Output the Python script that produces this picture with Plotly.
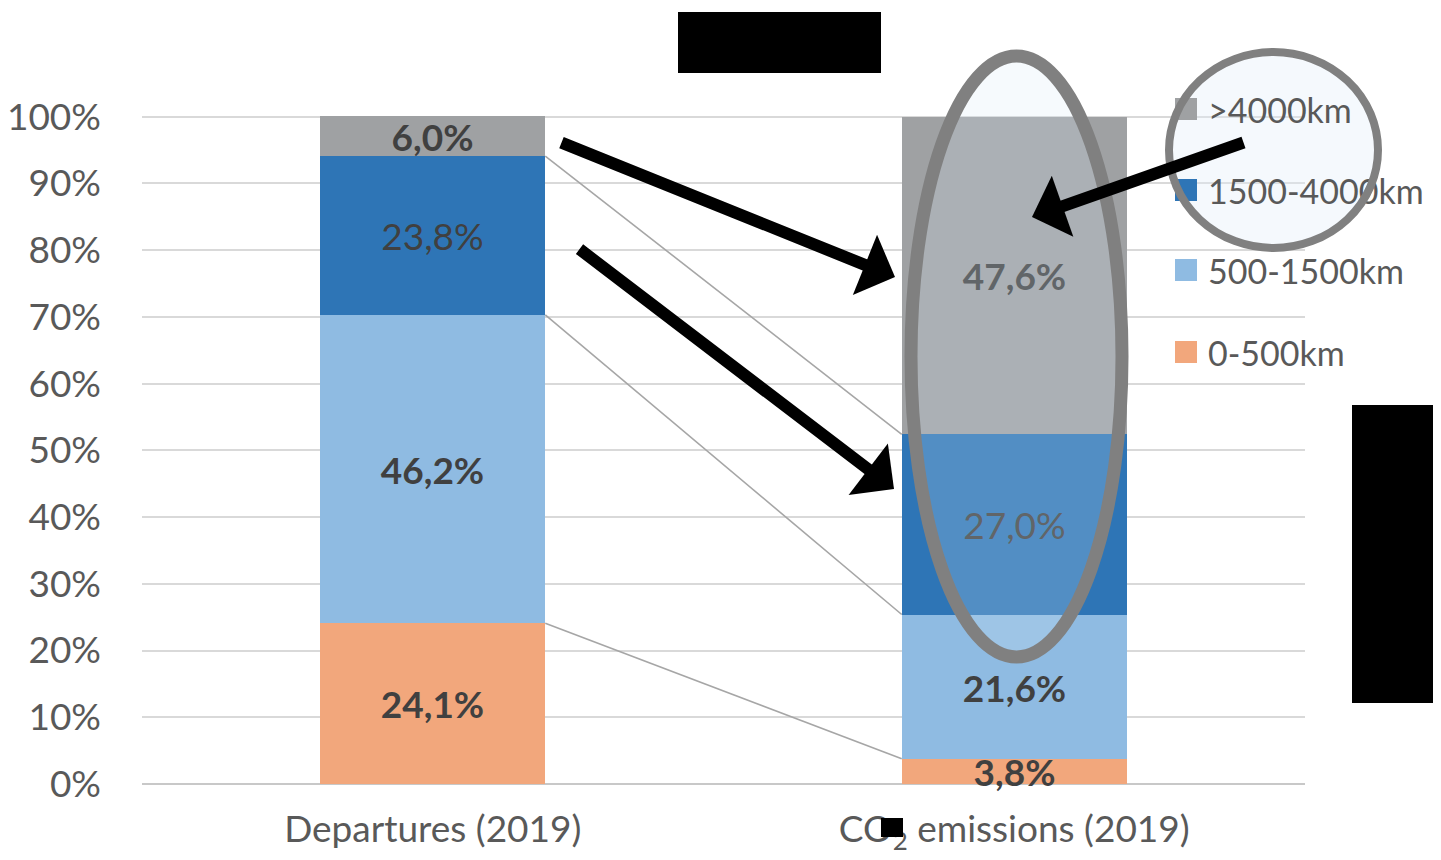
import plotly.graph_objects as go

categories = ["Departures (2019)", "CO<sub>2</sub> emissions (2019)"]
series_names = ["0-500km", "500-1500km", "1500-4000km", ">4000km"]
values_0_500 = [24.1, 3.8]
values_500_1500 = [46.2, 21.6]
values_1500_4000 = [23.8, 27.0]
values_4000_plus = [6.0, 47.6]
series_values = [values_0_500, values_500_1500, values_1500_4000, values_4000_plus]
series_colors = ["#f2a77c", "#8fbbe2", "#2e75b6", "#9fa1a3"]
label_bold = [True, True, False, True]
y_ticks = [0, 10, 20, 30, 40, 50, 60, 70, 80, 90, 100]
y_tick_labels = [f"{v}%" for v in y_ticks]
Y_MAX = 101

# page body has an 8px margin: the figure is drawn offset by (8, 8)
OFF = 8
W, H = 1441 - OFF, 860 - OFF
PLOT_L, PLOT_R, PLOT_B = 142, 1305, 784   # screen pixels
Y100 = 117                                 # screen pixel of the 100% line
PLOT_T = round(PLOT_B - (PLOT_B - Y100) * Y_MAX / 100)
ML, MR, MT, MB = PLOT_L - OFF, 1441 - PLOT_R, PLOT_T - OFF, 860 - PLOT_B
PW, PH = PLOT_R - PLOT_L, PLOT_B - PLOT_T
FONT = "Lato"
BAR_W = 0.387


def px(x):
    return (x - PLOT_L) / PW


def py(y):
    return (PLOT_B - y) / PH


fig = go.Figure()
xpos = list(range(len(categories)))

for name, vals, col, bold in zip(series_names, series_values, series_colors, label_bold):
    fig.add_trace(go.Bar(
        x=xpos, y=vals, name=name, width=BAR_W,
        marker=dict(color=col, line=dict(width=0)),
        texttemplate="%{y:.1f}%", textposition="inside", insidetextanchor="middle",
        textangle=0, constraintext="none", cliponaxis=False,
        textfont=dict(family=FONT, size=37, color="#404040",
                      weight="bold" if bold else "normal"),
        showlegend=False,
    ))

# series connector lines between the bars
cum = [0, 0]
for vals in series_values[:-1]:
    cum = [c + v for c, v in zip(cum, vals)]
    fig.add_trace(go.Scatter(
        x=[xpos[0] + BAR_W / 2, xpos[1] - BAR_W / 2], y=cum, mode="lines",
        line=dict(color="#a6a6a6", width=1.6), showlegend=False, hoverinfo="skip",
    ))

fig.update_layout(
    width=W, height=H, barmode="stack", bargap=0,
    separators=",.",
    paper_bgcolor="white", plot_bgcolor="white",
    margin=dict(l=ML, r=MR, t=MT, b=MB, pad=0),
    font=dict(family=FONT, color="#595959"),
    showlegend=False,
    xaxis=dict(range=[-0.5, 1.5], tickvals=xpos, ticktext=categories,
               showgrid=False, zeroline=False, showline=False, ticks="",
               automargin=False,
               tickfont=dict(family=FONT, size=37, color="#595959"),
               ticklabelstandoff=20),
    yaxis=dict(range=[0, Y_MAX], tickvals=y_ticks, ticktext=y_tick_labels,
               showgrid=True, gridcolor="#d9d9d9", gridwidth=2,
               zeroline=True, zerolinecolor="#c8c8c8", zerolinewidth=2,
               showline=False, ticks="", automargin=False,
               tickfont=dict(family=FONT, size=37, color="#595959"),
               ticklabelstandoff=40),
)

shapes = []
# big ellipse around the CO2 bar (translucent)
shapes.append(dict(type="circle", xref="paper", yref="paper", layer="above",
                   x0=px(911), x1=px(1122), y0=py(657), y1=py(56),
                   line=dict(color="#808080", width=13),
                   fillcolor="rgba(215,232,248,0.22)"))
# legend circle fill
shapes.append(dict(type="circle", xref="paper", yref="paper", layer="above",
                   x0=px(1169), x1=px(1378), y0=py(248), y1=py(52),
                   line=dict(width=0), fillcolor="rgba(225,238,250,0.35)"))
# legend entries (drawn in reverse order: >4000km on top)
legend_y = [352, 270, 190, 109]
for name, col, yc in zip(series_names, series_colors, legend_y):
    shapes.append(dict(type="rect", xref="paper", yref="paper", layer="above",
                       x0=px(1175), x1=px(1197), y0=py(yc + 11), y1=py(yc - 11),
                       line=dict(width=0), fillcolor=col))
    shapes.append(dict(type="rect", xref="paper", yref="paper", layer="above",
                       x0=px(1203), x1=px(1440), y0=py(yc + 22), y1=py(yc - 22),
                       line=dict(width=0), fillcolor="rgba(0,0,0,0)",
                       label=dict(text=name, textposition="middle left", padding=2,
                                  font=dict(family=FONT, size=34, color="#595959"))))
# legend circle border
shapes.append(dict(type="circle", xref="paper", yref="paper", layer="above",
                   x0=px(1169), x1=px(1378), y0=py(248), y1=py(52),
                   line=dict(color="#808080", width=8), fillcolor="rgba(0,0,0,0)"))
# redaction boxes
for (x0, y0, x1, y1) in [(678, 12, 881, 73), (1352, 405, 1441, 703), (881, 818, 903, 837)]:
    shapes.append(dict(type="rect", xref="paper", yref="paper", layer="above",
                       x0=px(x0), x1=px(x1), y0=py(y1), y1=py(y0),
                       line=dict(width=0), fillcolor="black"))
fig.update_layout(shapes=shapes)

# arrows
arrows = [((560, 142), (895, 277)), ((578, 248), (894, 489)), ((1245, 142), (1032, 217))]
for (tx, ty), (hx, hy) in arrows:
    fig.add_annotation(x=px(hx), y=py(hy), xref="paper", yref="paper",
                       ax=tx - hx, ay=ty - hy, axref="pixel", ayref="pixel",
                       text="", showarrow=True, arrowhead=1, arrowsize=0.9,
                       arrowwidth=12, arrowcolor="black")

fig.write_html("out.html")
